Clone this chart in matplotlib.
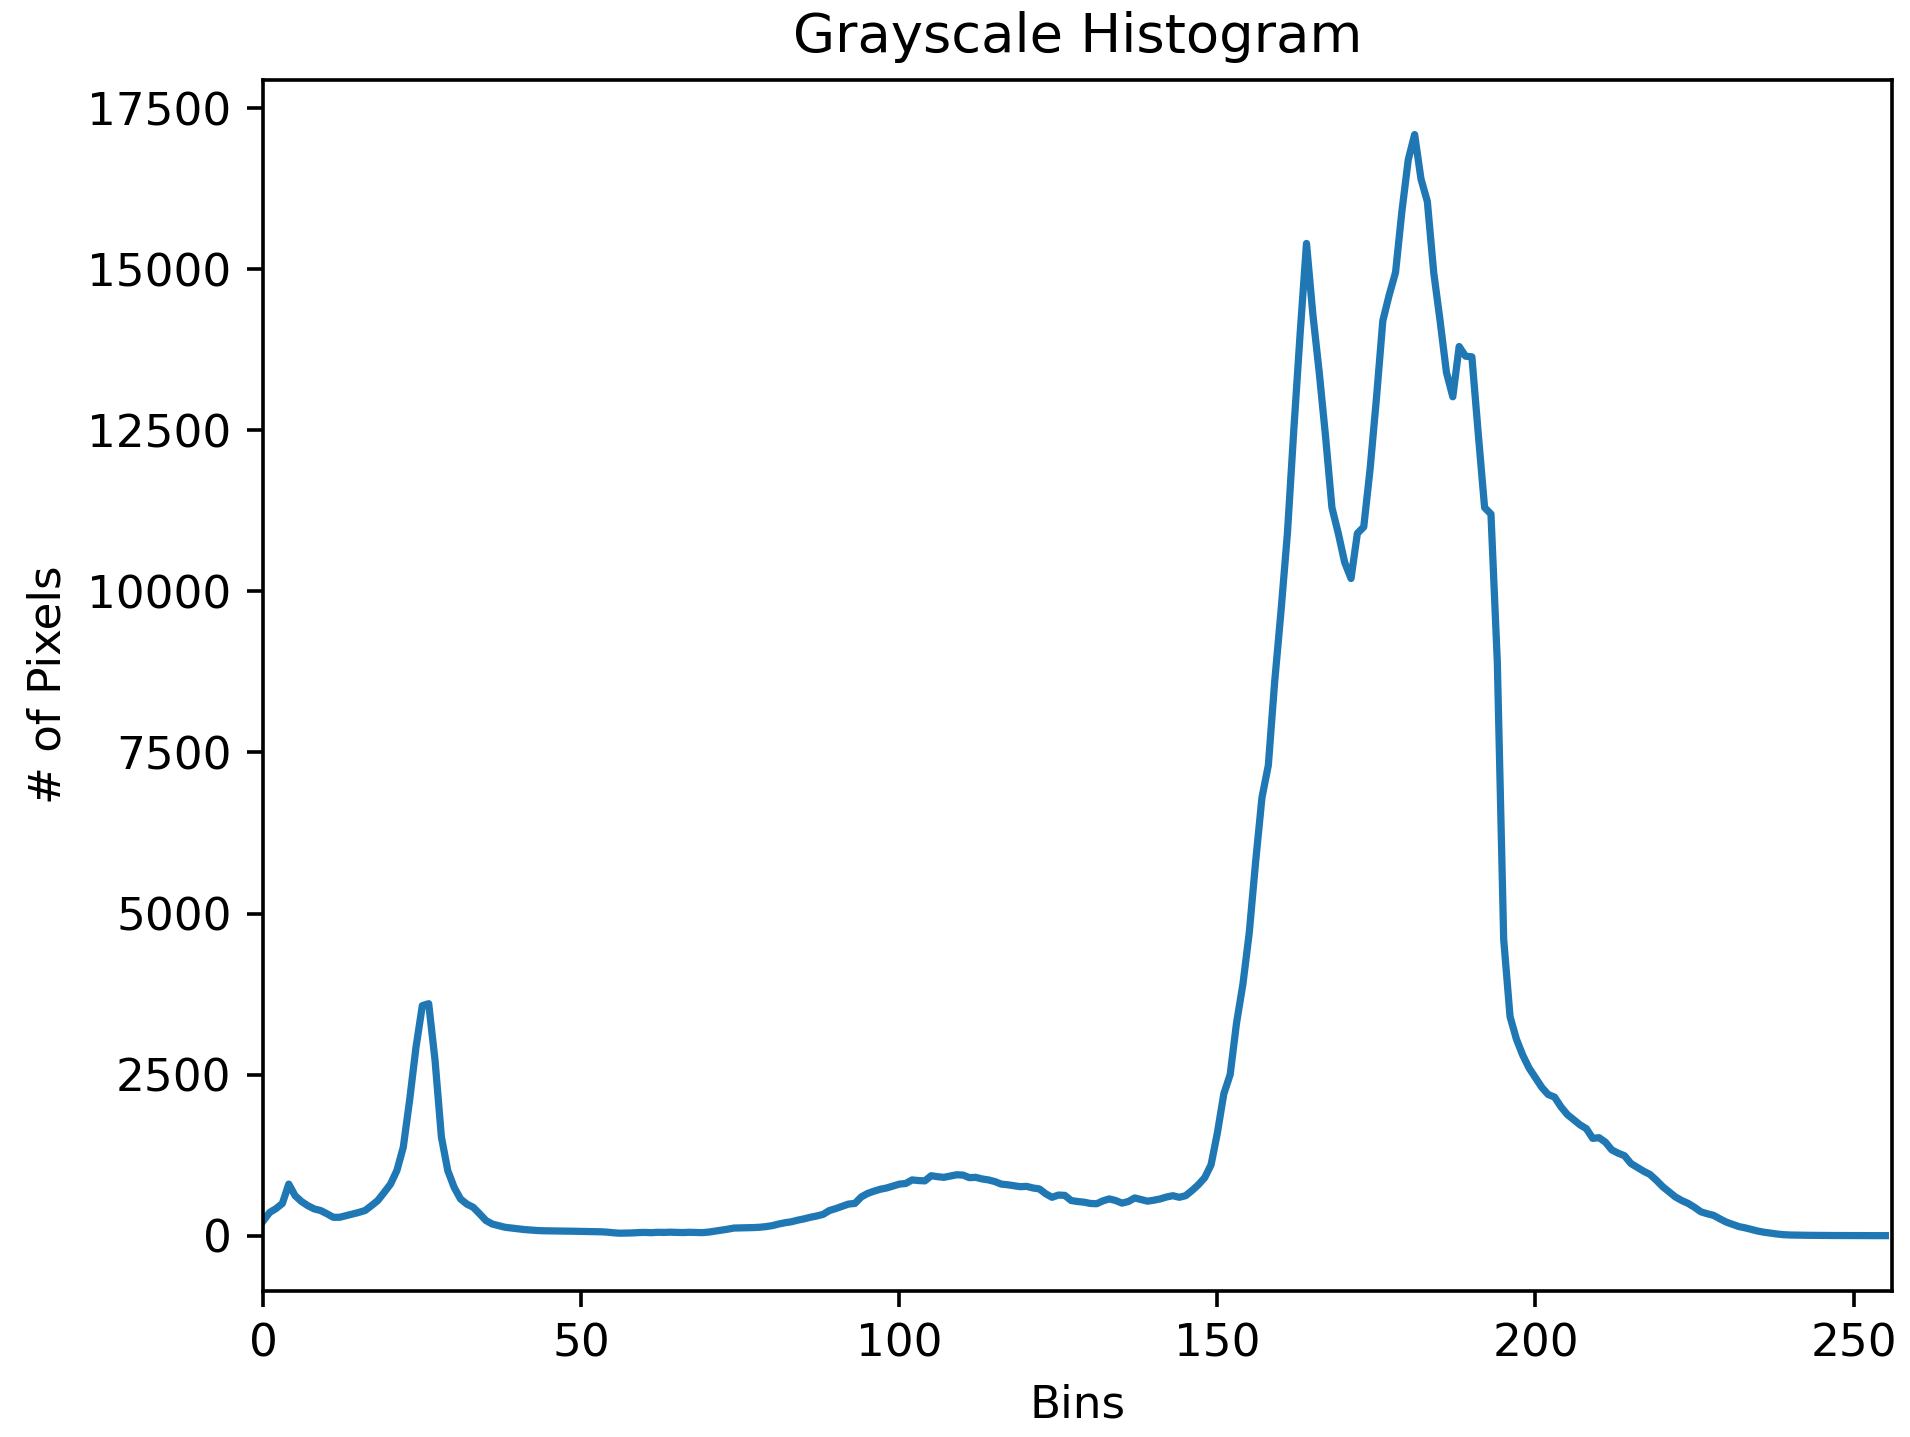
import matplotlib
matplotlib.use("Agg")
import matplotlib.pyplot as plt

# Grayscale histogram values, one per bin (0..255)
bins = list(range(256))
pixel_counts = [
    230, 360, 420, 500, 800, 620, 530, 465, 415, 390,
    340, 285, 285, 310, 335, 360, 390, 465, 545, 670,
    800, 1010, 1370, 2100, 2920, 3570, 3600, 2720, 1530, 1010,
    750, 570, 490, 440, 340, 235, 180, 155, 130, 118,
    105, 95, 88, 80, 76, 74, 72, 71, 70, 68,
    66, 64, 62, 60, 55, 45, 38, 40, 42, 48,
    50, 46, 52, 50, 54, 50, 48, 52, 50, 47,
    55, 70, 85, 100, 118, 120, 122, 125, 130, 140,
    155, 180, 200, 215, 240, 260, 285, 305, 330, 390,
    420, 455, 490, 500, 600, 655, 690, 720, 740, 770,
    800, 810, 865, 855, 850, 930, 915, 905, 925, 945,
    940, 900, 905, 880, 865, 840, 800, 790, 775, 760,
    765, 740, 725, 650, 595, 630, 625, 545, 530, 520,
    500, 495, 540, 570, 545, 505, 530, 585, 560, 535,
    550, 570, 600, 620, 595, 620, 700, 790, 900, 1100,
    1600, 2200, 2500, 3300, 3900, 4700, 5800, 6800, 7300, 8600,
    9700, 10900, 12500, 14000, 15400, 14300, 13400, 12400, 11300, 10900,
    10450, 10200, 10900, 11000, 11900, 13000, 14200, 14600, 14950, 15900,
    16700, 17090, 16400, 16050, 14950, 14200, 13400, 13020, 13800, 13650,
    13640, 12450, 11300, 11200, 8900, 4600, 3400, 3050, 2800, 2600,
    2450, 2300, 2190, 2150, 2000, 1880, 1800, 1720, 1660, 1510,
    1520, 1450, 1330, 1280, 1240, 1120, 1060, 1000, 950, 860,
    760, 680, 600, 545, 500, 440, 370, 340, 315, 260,
    210, 175, 140, 120, 95, 70, 52, 38, 25, 15,
    10, 8, 6, 5, 4, 3, 3, 2, 2, 1,
    1, 1, 0, 0, 0, 0,
]

DPI = 326
fig = plt.figure(figsize=(1910 / DPI, 1437 / DPI), dpi=DPI)
ax = fig.add_axes([263.3 / 1910, 1 - 1290.7 / 1437,
                   (1891.7 - 263.3) / 1910, (1290.7 - 79.5) / 1437])
ax.plot(bins, pixel_counts, color="#1f77b4", linewidth=1.6)
ax.set_xlim([0, 256])
ax.set_title("Grayscale Histogram")
ax.set_xlabel("Bins")
ax.set_ylabel("# of Pixels")
fig.savefig("out.png", dpi=DPI)
